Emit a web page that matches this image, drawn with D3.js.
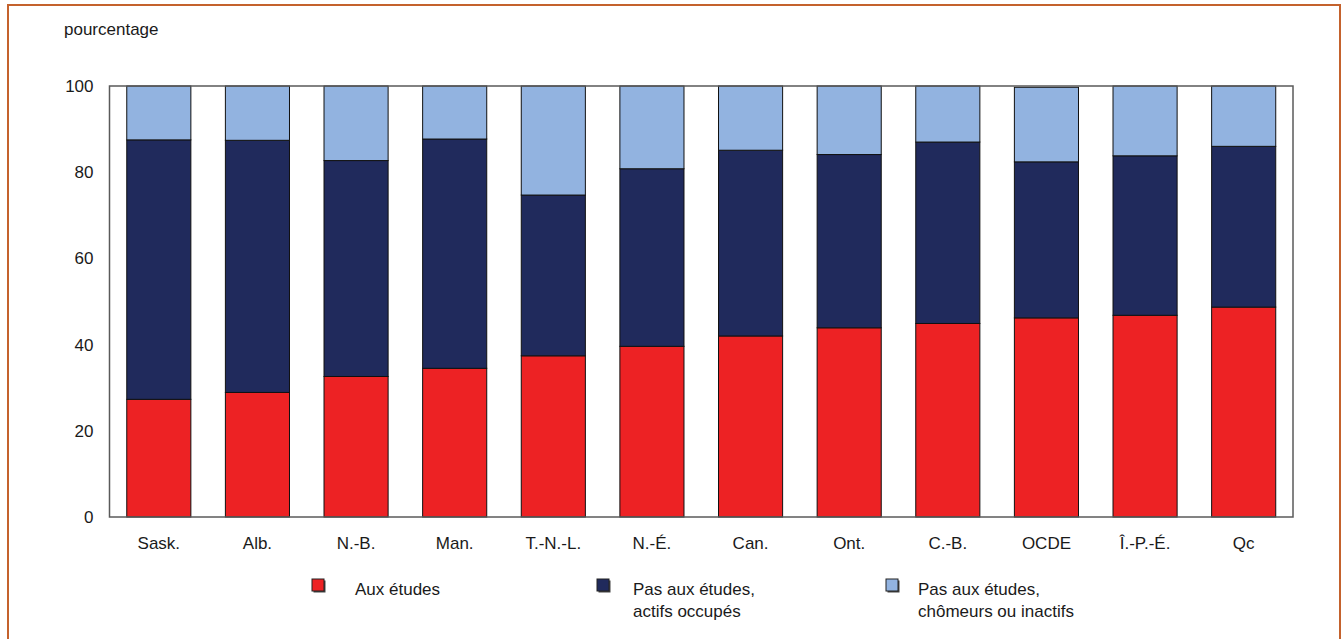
<!DOCTYPE html>
<html>
<head>
<meta charset="utf-8">
<script src="https://cdn.jsdelivr.net/npm/d3@7"></script>
<style>
  body { margin: 0; background: #fff; }
  text { font-family: "Liberation Sans Narrow", "Arial Narrow", "Liberation Sans", sans-serif; fill: #1a1a1a; }
</style>
</head>
<body>
<script>
// categories + the three stacked series (percent)
let categories = ['Sask.', 'Alb.', 'N.-B.', 'Man.', 'T.-N.-L.', 'N.-É.', 'Can.', 'Ont.', 'C.-B.', 'OCDE', 'Î.-P.-É.', 'Qc'];
let auxEtudes = [27.3, 28.9, 32.6, 34.5, 37.4, 39.6, 42.0, 43.9, 44.9, 46.2, 46.8, 48.7];
let actifsOccupes = [60.2, 58.5, 50.1, 53.2, 37.3, 41.2, 43.1, 40.2, 42.1, 36.2, 37.0, 37.3];
let chomeursInactifs = [12.5, 12.6, 17.3, 12.3, 25.3, 19.2, 14.9, 15.9, 13.0, 17.3, 16.2, 14.0];
let yTicks = [0, 20, 40, 60, 80, 100];

let seriesKeys = ['etudes', 'occupes', 'inactifs'];
let seriesNames = [['Aux études'], ['Pas aux études,', 'actifs occupés'], ['Pas aux études,', 'chômeurs ou inactifs']];
let colors = ['#ED2224', '#202A5C', '#92B3E0'];

// build rows for d3.stack
let rows = categories.map(function (c, i) {
  return { cat: c, etudes: auxEtudes[i], occupes: actifsOccupes[i], inactifs: chomeursInactifs[i] };
});

let svg = d3.select('body')
  .append('svg')
  .attr('width', 1341)
  .attr('height', 639);

// orange outer frame
svg.append('rect')
  .attr('x', 8).attr('y', 5)
  .attr('width', 1332).attr('height', 650)
  .attr('fill', 'none')
  .attr('stroke', '#C4622D')
  .attr('stroke-width', 2);

let x = d3.scaleBand()
  .domain(categories)
  .range([109.5, 1293])
  .paddingInner(0.35)
  .paddingOuter(0.175);

let y = d3.scaleLinear()
  .domain([0, 100])
  .range([517, 86]);

let stacked = d3.stack().keys(seriesKeys)(rows);

// bars
svg.selectAll('g.layer')
  .data(stacked)
  .enter()
  .append('g')
  .attr('class', 'layer')
  .attr('fill', function (d, i) { return colors[i]; })
  .selectAll('rect')
  .data(function (d) { return d; })
  .enter()
  .append('rect')
  .attr('x', function (d) { return x(d.data.cat); })
  .attr('y', function (d) { return y(d[1]); })
  .attr('width', x.bandwidth())
  .attr('height', function (d) { return y(d[0]) - y(d[1]); })
  .attr('stroke', '#111')
  .attr('stroke-width', 1);

// plot frame
svg.append('rect')
  .attr('x', 109.5).attr('y', 86)
  .attr('width', 1293 - 109.5).attr('height', 517 - 86)
  .attr('fill', 'none')
  .attr('stroke', '#5a5a5a')
  .attr('stroke-width', 1.5);

// y axis labels (no tick marks)
let yAxis = d3.axisLeft(y).tickValues(yTicks).tickSize(0).tickPadding(16);
let yg = svg.append('g').attr('transform', 'translate(109.5,0)').call(yAxis);
yg.select('.domain').remove();
yg.selectAll('text').style('font-size', '17px').attr('fill', '#1a1a1a');

// x axis labels
let xAxis = d3.axisBottom(x).tickSize(0).tickPadding(20);
let xg = svg.append('g').attr('transform', 'translate(0,517)').call(xAxis);
xg.select('.domain').remove();
xg.selectAll('text').style('font-size', '17px').attr('fill', '#1a1a1a');

// axis title
svg.append('text')
  .attr('x', 64).attr('y', 35)
  .style('font-size', '17px')
  .text('pourcentage');

// legend
let legendX = [312, 597, 886];
let textX = [355, 633, 918];
seriesNames.forEach(function (lines, i) {
  svg.append('rect')
    .attr('x', legendX[i] + 1.5).attr('y', 580.5)
    .attr('width', 12).attr('height', 12)
    .attr('fill', '#444');
  svg.append('rect')
    .attr('x', legendX[i]).attr('y', 579)
    .attr('width', 12).attr('height', 12)
    .attr('fill', colors[i])
    .attr('stroke', '#222')
    .attr('stroke-width', 1);
  let t = svg.append('text')
    .attr('x', textX[i]).attr('y', 595)
    .style('font-size', '17px');
  lines.forEach(function (l, k) {
    t.append('tspan')
      .attr('x', textX[i])
      .attr('dy', k === 0 ? 0 : 22)
      .text(l);
  });
});
</script>
</body>
</html>
